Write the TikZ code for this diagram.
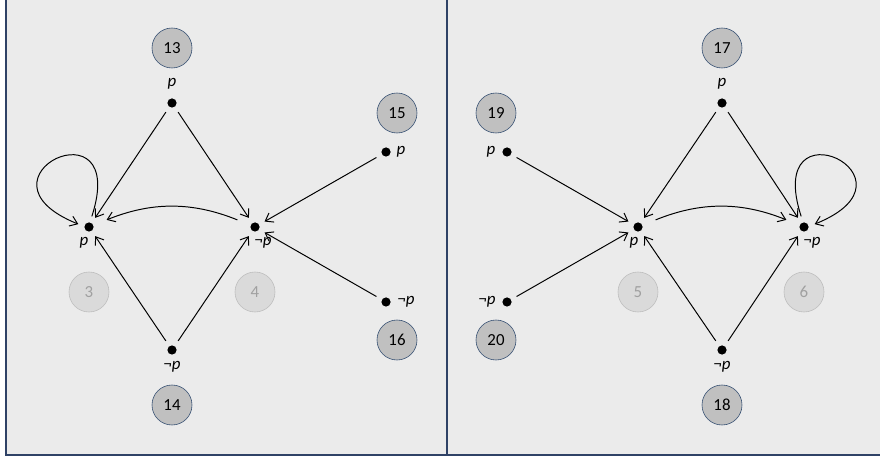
\documentclass[tikz,border=0pt]{standalone}
\usepackage{fontspec}
\setmainfont{Carlito}
\usetikzlibrary{arrows.meta}

\definecolor{panelbg}{HTML}{EBEBEB}
\definecolor{framec}{HTML}{2F4266}
\definecolor{numfill}{HTML}{C0C0C0}
\definecolor{numdraw}{HTML}{2F4A6E}
\definecolor{ghostfill}{HTML}{DADADA}
\definecolor{ghostdraw}{HTML}{BCBCBC}
\definecolor{ghosttext}{HTML}{A0A0A0}

\tikzset{
  world/.style={circle, fill=black, inner sep=0pt, minimum size=0.23cm, outer sep=0.16cm},
  numc/.style={circle, draw=numdraw, fill=numfill, minimum size=1cm, inner sep=0pt, font=\fontsize{12}{14}\selectfont},
  ghost/.style={circle, draw=ghostdraw, fill=ghostfill, text=ghosttext, minimum size=1cm, inner sep=0pt, font=\fontsize{12}{14}\selectfont},
  lbl/.style={inner sep=0pt, font=\fontsize{12}{14}\selectfont\itshape},
  arr/.style={-{Straight Barb[length=1.8mm,width=2.6mm]}, line width=0.7pt},
  gap/.style={shorten <=0.2cm, shorten >=0.2cm},
}

\begin{document}
\begin{tikzpicture}[x=0.025cm, y=0.025cm]
    \useasboundingbox (0,0) rectangle (880,460);

    % Panels
    \fill[panelbg] (6,5) rectangle (880,460);
    \draw[framec, line width=1.2pt] (6,460) -- (6,5) -- (880,5);
    \draw[framec, line width=1.2pt] (447,5) -- (447,460);

    % Left model
    \node[numc] (n13) at (172,412) {13};
    \node[world] (w13) at (172,357) {};
    \node[lbl] (l13) at (172,376) {p};
    \node[world] (w3) at (89,233) {};
    \node[lbl] (l3) at (84,217) {p};
    \node[world] (w4) at (255,233) {};
    \node[lbl] (l4) at (263,217) {¬p};
    \node[world] (w14) at (172,110) {};
    \node[lbl] (l14) at (172,93) {¬p};
    \node[numc] (n14) at (172,55) {14};
    \node[ghost] (n3) at (89,168) {3};
    \node[ghost] (n4) at (255,168) {4};
    \node[numc] (n15) at (397,347) {15};
    \node[world] (w15) at (386,308) {};
    \node[lbl] (l15) at (401,308) {p};
    \node[world] (w16) at (386,158) {};
    \node[lbl] (l16) at (406,158) {¬p};
    \node[numc] (n16) at (397,120) {16};

    \draw[arr] (w13) -- (w3);
    \draw[arr] (w13) -- (w4);
    \draw[arr] (w14) -- (w3);
    \draw[arr] (w14) -- (w4);
    \draw[arr] (w15) -- (w4);
    \draw[arr] (w16) -- (w4);
    \draw[arr, gap] (w4) to[bend right=22] (w3);
    \draw[arr] (w3.75) .. controls +(72:3.1cm) and +(158:3.1cm) .. (w3.165);

    % Right model
    \node[numc] (n17) at (722,412) {17};
    \node[world] (w17) at (722,357) {};
    \node[lbl] (l17) at (722,376) {p};
    \node[world] (w5) at (638,233) {};
    \node[lbl] (l5) at (634,217) {p};
    \node[world] (w6) at (804,233) {};
    \node[lbl] (l6) at (812,217) {¬p};
    \node[world] (w18) at (722,110) {};
    \node[lbl] (l18) at (722,93) {¬p};
    \node[numc] (n18) at (722,55) {18};
    \node[ghost] (n5) at (638,168) {5};
    \node[ghost] (n6) at (804,168) {6};
    \node[numc] (n19) at (496,347) {19};
    \node[world] (w19) at (507,308) {};
    \node[lbl] (l19) at (491,308) {p};
    \node[world] (w20) at (507,158) {};
    \node[lbl] (l20) at (487,158) {¬p};
    \node[numc] (n20) at (496,120) {20};

    \draw[arr] (w17) -- (w5);
    \draw[arr] (w17) -- (w6);
    \draw[arr] (w18) -- (w5);
    \draw[arr] (w18) -- (w6);
    \draw[arr] (w19) -- (w5);
    \draw[arr] (w20) -- (w5);
    \draw[arr, gap] (w5) to[bend left=22] (w6);
    \draw[arr] (w6.105) .. controls +(108:3.1cm) and +(22:3.1cm) .. (w6.15);
\end{tikzpicture}
\end{document}
